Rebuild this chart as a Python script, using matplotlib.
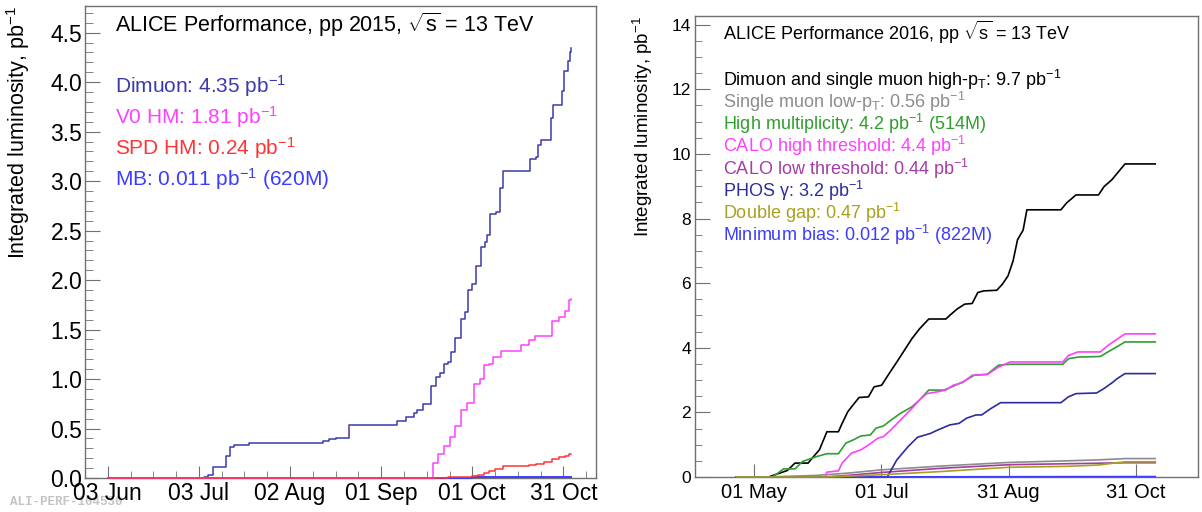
import matplotlib
matplotlib.use('Agg')
import matplotlib.pyplot as plt
import matplotlib.ticker as mticker
import numpy as np
import pandas as pd

plt.rcParams['font.family'] = ['Liberation Sans', 'DejaVu Sans']
plt.rcParams['mathtext.fontset'] = 'custom'
plt.rcParams['mathtext.rm'] = 'Liberation Sans'
plt.rcParams['mathtext.it'] = 'Liberation Sans:italic'
plt.rcParams['mathtext.bf'] = 'Liberation Sans:bold'

# ---------------- 2015 data (days after 03 Jun 2015) ----------------
start15 = pd.Timestamp('2015-06-03')

dimuon15_day = [0, 31.6, 33.0, 34.7, 39.0, 40.4, 41.5, 46.5, 70.8, 72.7, 75.2, 79.5,
                95.1, 98.2, 100.7, 101.9, 103.8, 106.3, 108.2, 109.4, 110.6, 111.9,
                113.1, 114.4, 116.2, 117.5, 118.7, 120.0, 121.2, 122.7, 124.1, 125.0,
                125.7, 127.9, 129.0, 130.0, 139.0, 140.9, 141.5, 142.5, 145.8, 146.5,
                149.6, 150.3, 151.4, 152.0, 152.4]
dimuon15_lumi = [0, 0.01, 0.03, 0.11, 0.22, 0.31, 0.33, 0.35, 0.37, 0.39, 0.40, 0.54,
                 0.58, 0.62, 0.66, 0.69, 0.75, 0.93, 1.02, 1.06, 1.15, 1.17,
                 1.27, 1.41, 1.61, 1.68, 1.90, 1.96, 2.14, 2.33, 2.39, 2.46,
                 2.67, 2.69, 2.93, 3.10, 3.22, 3.24, 3.37, 3.42, 3.64, 3.77,
                 3.91, 4.11, 4.21, 4.31, 4.35]

v0hm15_day = [0, 105.0, 106.9, 108.8, 110.6, 112.5, 114.4, 116.2, 118.1, 120.6, 122.4,
              123.7, 125.6, 126.8, 129.3, 136.1, 138.6, 140.5, 146.1, 148.6, 150.4,
              151.7, 152.4]
v0hm15_lumi = [0, 0.0, 0.15, 0.24, 0.32, 0.41, 0.53, 0.69, 0.76, 0.95, 1.00,
               1.14, 1.15, 1.22, 1.28, 1.34, 1.39, 1.44, 1.59, 1.63, 1.69,
               1.80, 1.81]

spdhm15_day = [0, 103, 112, 117, 120, 122, 123.7, 125.5, 127.5, 130.0, 138.6, 141.1,
               143.6, 146.1, 148.6, 150.5, 151.7, 152.4]
spdhm15_lumi = [0, 0.003, 0.008, 0.015, 0.02, 0.03, 0.05, 0.07, 0.09, 0.12, 0.13, 0.14,
                0.16, 0.19, 0.21, 0.22, 0.24, 0.24]

mb15_day = [0, 40, 80, 100, 120, 140, 152.4]
mb15_lumi = [0, 0.001, 0.003, 0.005, 0.007, 0.009, 0.011]

ticks15 = pd.date_range('2015-06-03', periods=6, freq='30D')
ticklabels15 = ['03 Jun', '03 Jul', '02 Aug', '01 Sep', '01 Oct', '31 Oct']

# ---------------- 2016 data (days after 01 May 2016) ----------------
start16 = pd.Timestamp('2016-05-01')

hipt16_day = [-8.4, 6.9, 12.3, 15.9, 19.6, 25.9, 28.6, 31.3, 34.9, 40.4, 42.2, 44.9,
              46.7, 50.3, 54.8, 57.5, 61.1, 64.7, 68.4, 72.0, 75.6, 79.2, 83.7, 91.9,
              93.7, 97.3, 100.9, 104.5, 107.2, 110.0, 116.3, 119.0, 121.7, 124.1,
              126.2, 128.9, 130.7, 147.0, 149.7, 154.2, 165.0, 167.7, 171.4, 174.1,
              177.7, 192.2]
hipt16_lumi = [0, 0, 0.12, 0.20, 0.43, 0.43, 0.64, 0.84, 1.40, 1.40, 1.66, 2.02,
               2.17, 2.46, 2.48, 2.79, 2.84, 3.20, 3.56, 3.92, 4.28, 4.58, 4.89, 4.89,
               5.00, 5.20, 5.35, 5.37, 5.71, 5.76, 5.78, 5.97, 6.23, 6.69,
               7.34, 7.64, 8.27, 8.27, 8.48, 8.73, 8.73, 8.99, 9.20, 9.41,
               9.69, 9.69]

lowpt16_day = [-8.4, 7, 30, 45, 61, 90, 122, 150, 165, 178, 192.2]
lowpt16_lumi = [0, 0, 0.05, 0.12, 0.22, 0.34, 0.45, 0.50, 0.53, 0.57, 0.57]

highmult16_day = [-8.4, 8.7, 11.4, 14.1, 19.6, 23.2, 30.4, 34.9, 40.4, 44.0, 47.6, 51.2,
                  55.7, 58.4, 62.0, 65.6, 70.1, 75.6, 79.2, 83.7, 91.0, 95.4, 99.9,
                  105.5, 111.7, 117.1, 122.6, 147.9, 150.6, 155.1, 165.9, 169.5,
                  174.1, 177.7, 192.2]
highmult16_lumi = [0, 0, 0.12, 0.25, 0.25, 0.48, 0.64, 0.72, 0.72, 1.05, 1.15, 1.27,
                   1.30, 1.51, 1.58, 1.76, 1.97, 2.17, 2.38, 2.69, 2.69, 2.81, 2.94,
                   3.15, 3.18, 3.46, 3.49, 3.49, 3.66, 3.71, 3.73, 3.87,
                   4.04, 4.18, 4.18]

calohigh16_day = [34.0, 34.9, 40.4, 42.2, 46.7, 51.2, 54.8, 59.3, 62.0, 65.6, 70.1,
                  75.6, 79.2, 82.8, 88.2, 91.9, 95.4, 99.9, 104.5, 111.7, 117.1, 122.6,
                  147.9, 150.6, 155.1, 165.9, 169.5, 173.1, 177.7, 192.2]
calohigh16_lumi = [0, 0.15, 0.19, 0.43, 0.74, 0.84, 0.99, 1.20, 1.25, 1.46, 1.76,
                   2.12, 2.38, 2.58, 2.64, 2.69, 2.84, 2.92, 3.15, 3.17, 3.40, 3.56,
                   3.56, 3.76, 3.87, 3.87, 4.07, 4.23, 4.43, 4.43]

calolow16_day = [34, 45, 61, 90, 122, 150, 178, 192.2]
calolow16_lumi = [0, 0.05, 0.14, 0.27, 0.38, 0.41, 0.44, 0.44]

phos16_day = [-8.4, 63.8, 68.4, 73.8, 78.3, 84.6, 88.2, 93.7, 98.2, 101.8, 106.3, 109.0,
              113.5, 118.1, 147.0, 150.6, 154.2, 164.1, 167.7, 171.4, 174.1, 177.7, 192.2]
phos16_lumi = [0, 0, 0.53, 0.94, 1.23, 1.35, 1.46, 1.61, 1.66, 1.82, 1.92, 1.92,
               2.12, 2.30, 2.30, 2.48, 2.58, 2.60, 2.74, 2.91, 3.05, 3.20, 3.20]

dgap16_day = [-8.4, 35, 61, 90, 122, 150, 165, 175, 178, 192.2]
dgap16_lumi = [0, 0, 0.07, 0.17, 0.30, 0.33, 0.37, 0.45, 0.47, 0.47]

mb16_day = [-8.4, 40, 80, 120, 160, 192.2]
mb16_lumi = [0, 0.002, 0.005, 0.008, 0.011, 0.012]

ticks16 = pd.date_range('2016-05-01', periods=4, freq='61D')
ticklabels16 = ['01 May', '01 Jul', '31 Aug', '31 Oct']


def to_dates(base, days):
    return (base + pd.to_timedelta(np.asarray(days, dtype=float), unit='D')).to_numpy()


frame_col = '#707070'

fig = plt.figure(figsize=(12.02, 5.12), dpi=100)

# ======================= left panel =======================
ax1 = fig.add_axes([0.0707, 0.0664, 0.4251, 0.9219])

ax1.plot(to_dates(start15, dimuon15_day), dimuon15_lumi, drawstyle='steps-post',
         color='#3a3aae', lw=1.1, clip_on=False, zorder=3)
ax1.plot(to_dates(start15, mb15_day), mb15_lumi, drawstyle='steps-post',
         color='#3c3cff', lw=1.4, clip_on=False, zorder=3)
ax1.plot(to_dates(start15, v0hm15_day), v0hm15_lumi, drawstyle='steps-post',
         color='#ff40ff', lw=1.1, clip_on=False, zorder=3)
ax1.plot(to_dates(start15, spdhm15_day), spdhm15_lumi, drawstyle='steps-post',
         color='#ff3535', lw=1.1, clip_on=False, zorder=3)

ax1.set_xlim(start15 + pd.Timedelta(days=-5.63), start15 + pd.Timedelta(days=160.7))
ax1.set_ylim(0, 4.77)
ax1.set_xticks(ticks15)
ax1.set_xticklabels(ticklabels15)
ax1.set_xticks(pd.date_range('2015-05-26 12:00', '2015-11-11', freq='180h'), minor=True)
ax1.yaxis.set_major_locator(mticker.MultipleLocator(0.5))
ax1.yaxis.set_minor_locator(mticker.MultipleLocator(0.1))
ax1.yaxis.set_major_formatter(mticker.FormatStrFormatter('%.1f'))
ax1.tick_params(axis='both', which='both', direction='in', color=frame_col,
                top=False, right=False, labelsize=16.5)
ax1.tick_params(axis='x', which='major', length=8.5, pad=3)
ax1.tick_params(axis='x', which='minor', length=4.8)
ax1.tick_params(axis='y', which='major', length=11, pad=2)
ax1.tick_params(axis='y', which='minor', length=6)
ax1.set_ylabel('Integrated luminosity, pb$^{-1}$', fontsize=15.5, loc='top')
ax1.yaxis.set_label_coords(-0.104, 1.0)

ax1.text(0.0587, 0.9449, r'ALICE Performance, pp 2015, $\sqrt{\mathrm{s}}$ = 13 TeV',
         transform=ax1.transAxes, fontsize=15.5, va='baseline')
legend15 = ['Dimuon: 4.35 pb$^{-1}$', 'V0 HM: 1.81 pb$^{-1}$',
            'SPD HM: 0.24 pb$^{-1}$', 'MB: 0.011 pb$^{-1}$ (620M)']
colors15 = ['#3a3aae', '#ff40ff', '#ff3535', '#3c3cff']
for i, (s, c) in enumerate(zip(legend15, colors15)):
    ax1.text(0.0587, 0.8157 - i * 0.0653, s, color=c, transform=ax1.transAxes,
             fontsize=15, va='baseline')

fig.text(0.0083, 0.0137, 'ALI-PERF-104530', family='Liberation Mono', weight='bold',
         color='#c4c4c4', fontsize=9, va='baseline', zorder=-1)

# ======================= right panel =======================
ax2 = fig.add_axes([0.5782, 0.0684, 0.4185, 0.9004])

series16 = [
    (hipt16_day, hipt16_lumi, 'black'),
    (lowpt16_day, lowpt16_lumi, '#8c8c8c'),
    (highmult16_day, highmult16_lumi, '#2f9e2f'),
    (calohigh16_day, calohigh16_lumi, '#ff40ff'),
    (calolow16_day, calolow16_lumi, '#a43ca4'),
    (phos16_day, phos16_lumi, '#2b2ba2'),
    (mb16_day, mb16_lumi, '#3c3cff'),
    (dgap16_day, dgap16_lumi, '#aaa020'),
]
for d, v, c in series16:
    ax2.plot(to_dates(start16, d), v, color=c, lw=1.2, clip_on=False, zorder=3)

ax2.set_xlim(start16 + pd.Timedelta(days=-28.3), start16 + pd.Timedelta(days=212.7))
ax2.set_ylim(0, 14.27)
ax2.set_xticks(ticks16)
ax2.set_xticklabels(ticklabels16)
ax2.xaxis.set_minor_locator(mticker.NullLocator())
ax2.yaxis.set_major_locator(mticker.MultipleLocator(2))
ax2.yaxis.set_minor_locator(mticker.MultipleLocator(0.5))
ax2.tick_params(axis='both', which='both', direction='in', color=frame_col,
                top=False, right=False)
ax2.tick_params(axis='x', which='major', length=9.5, pad=4, labelsize=14.5)
ax2.tick_params(axis='y', which='major', length=11, pad=3, labelsize=12.5)
ax2.tick_params(axis='y', which='minor', length=5)
ax2.set_ylabel('Integrated luminosity, pb$^{-1}$', fontsize=13.5, loc='top')
ax2.yaxis.set_label_coords(-0.0795, 1.0)

ax2.text(0.0557, 0.948, r'ALICE Performance 2016, pp $\sqrt{\mathrm{s}}$ = 13 TeV',
         transform=ax2.transAxes, fontsize=13, va='baseline')
legend16 = [r'Dimuon and single muon high-p$_{\mathrm{T}}$: 9.7 pb$^{-1}$',
            r'Single muon low-p$_{\mathrm{T}}$: 0.56 pb$^{-1}$',
            'High multiplicity: 4.2 pb$^{-1}$ (514M)',
            'CALO high threshold: 4.4 pb$^{-1}$',
            'CALO low threshold: 0.44 pb$^{-1}$',
            'PHOS γ: 3.2 pb$^{-1}$',
            'Double gap: 0.47 pb$^{-1}$',
            'Minimum bias: 0.012 pb$^{-1}$ (822M)']
colors16 = ['black', '#8c8c8c', '#2f9e2f', '#ff40ff', '#a43ca4', '#2b2ba2',
            '#aaa020', '#3c3cff']
baselines16 = [86, 108, 130, 152.5, 175, 197, 219, 241]
for s, c, b in zip(legend16, colors16, baselines16):
    ax2.text(0.0557, (477 - b) / 461, s, color=c, transform=ax2.transAxes,
             fontsize=13, va='baseline')

for ax in (ax1, ax2):
    for sp in ax.spines.values():
        sp.set_color(frame_col)
        sp.set_linewidth(1.0)

fig.savefig('out.png', dpi=100)
